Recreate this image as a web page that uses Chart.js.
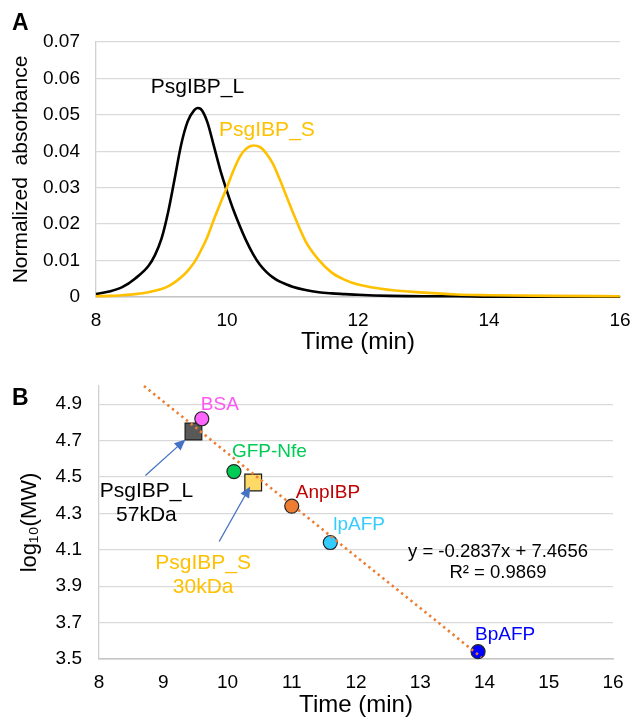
<!DOCTYPE html>
<html><head><meta charset="utf-8">
<script src="https://cdn.jsdelivr.net/npm/chart.js@4.4.1/dist/chart.umd.min.js"></script>
<style>
html,body{margin:0;padding:0;background:#fff;}
#wrap{position:relative;width:630px;height:720px;}
canvas{position:absolute;left:0;}
#cA{top:0;} #cB{top:360px;}
</style></head><body>
<div id="wrap"><canvas id="cA" width="630" height="360"></canvas><canvas id="cB" width="630" height="360"></canvas></div>
<script>
const FONT = "'Liberation Sans', Arial, sans-serif";

// ---------- Panel A data ----------
const timeA = [8.0, 8.2, 8.4, 8.6, 8.8, 8.9, 9.0, 9.1, 9.2, 9.3, 9.4, 9.5, 9.55, 9.6, 9.7, 9.8, 9.9, 10.0, 10.1, 10.2, 10.3, 10.4, 10.5, 10.6, 10.7, 10.8, 10.9, 11.0, 11.2, 11.4, 11.6, 11.8, 12.0, 12.5, 13.0, 13.5, 14.0, 15.0, 16.0];
const psgIBP_L = [0.0008, 0.0015, 0.0027, 0.0051, 0.0085, 0.0115, 0.0160, 0.0232, 0.0324, 0.0418, 0.0482, 0.0513, 0.0519, 0.0516, 0.0480, 0.0414, 0.0347, 0.0290, 0.0238, 0.0193, 0.0152, 0.0117, 0.0089, 0.0069, 0.0054, 0.0043, 0.0035, 0.0028, 0.0019, 0.0013, 0.0010, 0.0008, 0.0006, 0.0003, 0.0002, 0.0002, 0.0001, 0.0001, 0.0001];
const psgIBP_S = [0.0002, 0.0003, 0.0005, 0.0008, 0.0013, 0.0017, 0.0022, 0.0029, 0.0040, 0.0054, 0.0072, 0.0095, 0.0110, 0.0127, 0.0165, 0.0213, 0.0258, 0.0302, 0.0348, 0.0386, 0.0408, 0.0416, 0.0412, 0.0394, 0.0366, 0.0325, 0.0280, 0.0235, 0.0153, 0.0102, 0.0067, 0.0047, 0.0034, 0.0019, 0.0012, 0.0007, 0.0005, 0.0003, 0.0002];
const xTicksA = [8, 10, 12, 14, 16];
const yTicksA = [0, 0.01, 0.02, 0.03, 0.04, 0.05, 0.06, 0.07];

// ---------- Panel B data ----------
const stdNames = ['BSA', 'GFP-Nfe', 'AnpIBP', 'lpAFP', 'BpAFP'];
const stdTime = [9.6, 10.1, 11.0, 11.6, 13.9];
const stdLogMW = [4.82, 4.53, 4.34, 4.14, 3.54];
const sampleNames = ['PsgIBP_L', 'PsgIBP_S'];
const sampleMW = ['57kDa', '30kDa'];
const sampleTime = [9.47, 10.40];
const sampleLogMW = [4.75, 4.47];
const fitTime = [8.7, 13.95];
const fitLogMW = [5.0, 3.51];
const fitText = ['y = -0.2837x + 7.4656', 'R\u00B2 = 0.9869'];
const xTicksB = [8, 9, 10, 11, 12, 13, 14, 15, 16];
const yTicksB = [3.5, 3.7, 3.9, 4.1, 4.3, 4.5, 4.7, 4.9];

// styles
const stdFill = ['#FF66FF', '#00CC55', '#ED7D31', '#33CCFF', '#0000FF'];
const stdLabelColor = ['#FF55F5', '#00CC55', '#C00000', '#33CCFF', '#0000FF'];
const sampleFill = ['#595959', '#FFD966'];
const sampleLabelColor = ['#000000', '#FFC000'];

function tickSetter(arr){ return s => { s.ticks = arr.map(v => ({value: v})); }; }

// ---------- Chart A ----------
const panelAPlugin = {
  id: 'panelA',
  afterDraw(chart) {
    const ctx = chart.ctx, xs = chart.scales.x, ys = chart.scales.y;
    ctx.save();
    ctx.font = 'bold 23px ' + FONT;
    ctx.fillStyle = '#000';
    ctx.textAlign = 'left'; ctx.textBaseline = 'alphabetic';
    ctx.fillText('A', 12, 30);
    ctx.font = '21px ' + FONT;
    ctx.textAlign = 'center'; ctx.textBaseline = 'middle';
    ctx.fillStyle = '#000';
    ctx.fillText('PsgIBP_L', xs.getPixelForValue(9.55), ys.getPixelForValue(0.0575));
    ctx.fillStyle = '#FFC000';
    ctx.fillText('PsgIBP_S', xs.getPixelForValue(10.61), ys.getPixelForValue(0.0459));
    ctx.restore();
  }
};

new Chart(document.getElementById('cA'), {
  type: 'line',
  data: { datasets: [
    { label: 'PsgIBP_S', data: timeA.map((t, i) => ({x: t, y: psgIBP_S[i]})), borderColor: '#FFC000', borderWidth: 2.6, pointRadius: 0, cubicInterpolationMode: 'monotone', fill: false, clip: 6 },
    { label: 'PsgIBP_L', data: timeA.map((t, i) => ({x: t, y: psgIBP_L[i]})), borderColor: '#000000', borderWidth: 2.6, pointRadius: 0, cubicInterpolationMode: 'monotone', fill: false, clip: 6 }
  ]},
  options: {
    responsive: false, animation: false, devicePixelRatio: 1,
    layout: { padding: { left: 0, right: 10, top: 42, bottom: 0 } },
    plugins: { legend: { display: false }, tooltip: { enabled: false } },
    scales: {
      x: {
        type: 'linear', min: 8, max: 16,
        afterBuildTicks: tickSetter(xTicksA),
        ticks: { font: { family: FONT, size: 19 }, color: '#000', padding: 12, maxRotation: 0 },
        grid: { display: false, drawTicks: false },
        border: { display: true, color: '#c4c4c4', width: 1.5 },
        title: { display: true, text: 'Time (min)', font: { family: FONT, size: 24 }, color: '#000', padding: { top: 0, bottom: 3 } },
        afterFit: s => { s.height = 63; s.paddingLeft = 0; s.paddingRight = 0; }
      },
      y: {
        type: 'linear', min: 0, max: 0.07,
        afterBuildTicks: tickSetter(yTicksA),
        ticks: { font: { family: FONT, size: 19 }, color: '#000', padding: 16, callback: v => v === 0 ? '0' : v.toFixed(2) },
        grid: { color: '#d9d9d9', lineWidth: 1.3, drawTicks: false },
        border: { display: true, color: '#d0d0d0', width: 1.3 },
        title: { display: true, text: 'Normalized  absorbance', font: { family: FONT, size: 21 }, color: '#000', padding: { top: 9, bottom: 0 } },
        afterFit: s => { s.width = 96; s.paddingTop = 0; s.paddingBottom = 0; }
      }
    }
  },
  plugins: [panelAPlugin]
});

// ---------- Chart B ----------
function drawArrow(ctx, x1, y1, x2, y2, color) {
  const ang = Math.atan2(y2 - y1, x2 - x1);
  const hl = 11, hw = 5;
  const bx = x2 - hl * Math.cos(ang), by = y2 - hl * Math.sin(ang);
  ctx.strokeStyle = color; ctx.fillStyle = color; ctx.lineWidth = 1.3;
  ctx.beginPath(); ctx.moveTo(x1, y1); ctx.lineTo(bx, by); ctx.stroke();
  ctx.beginPath();
  ctx.moveTo(x2, y2);
  ctx.lineTo(bx + hw * Math.sin(ang), by - hw * Math.cos(ang));
  ctx.lineTo(bx - hw * Math.sin(ang), by + hw * Math.cos(ang));
  ctx.closePath(); ctx.fill();
}

const panelBPlugin = {
  id: 'panelB',
  afterDraw(chart) {
    const ctx = chart.ctx, xs = chart.scales.x, ys = chart.scales.y;
    ctx.save();
    ctx.font = 'bold 23px ' + FONT;
    ctx.fillStyle = '#000';
    ctx.textAlign = 'left'; ctx.textBaseline = 'alphabetic';
    ctx.fillText('B', 12, 45);

    // standard labels
    const offs = [[-1, -14], [-2, -20], [4, -13], [3, -18], [-3, -17]];
    ctx.font = '19px ' + FONT;
    ctx.textAlign = 'left'; ctx.textBaseline = 'middle';
    stdNames.forEach((n, i) => {
      const px = xs.getPixelForValue(stdTime[i]), py = ys.getPixelForValue(stdLogMW[i]);
      ctx.fillStyle = stdLabelColor[i];
      ctx.fillText(n, px + offs[i][0], py + offs[i][1]);
    });

    // sample labels + arrows
    const tOff = [[-47, 60], [-50, 81]];
    const aOff = [[-48, 44, -8, 8], [-34, 59, -3, 4]];
    sampleNames.forEach((n, i) => {
      const px = xs.getPixelForValue(sampleTime[i]), py = ys.getPixelForValue(sampleLogMW[i]);
      drawArrow(ctx, px + aOff[i][0], py + aOff[i][1], px + aOff[i][2], py + aOff[i][3], '#4472C4');
      ctx.font = '21px ' + FONT;
      ctx.textAlign = 'center'; ctx.textBaseline = 'middle';
      ctx.fillStyle = sampleLabelColor[i];
      ctx.fillText(n, px + tOff[i][0], py + tOff[i][1]);
      ctx.fillText(sampleMW[i], px + tOff[i][0], py + tOff[i][1] + 24);
    });

    // fit equation
    ctx.font = '18.5px ' + FONT;
    ctx.fillStyle = '#000';
    ctx.textAlign = 'center'; ctx.textBaseline = 'middle';
    ctx.fillText(fitText[0], xs.getPixelForValue(14.21), ys.getPixelForValue(4.088));
    ctx.fillText(fitText[1], xs.getPixelForValue(14.21), ys.getPixelForValue(3.973));
    ctx.restore();
  }
};

new Chart(document.getElementById('cB'), {
  type: 'scatter',
  data: { datasets: [
    { type: 'line', label: 'fit', data: fitTime.map((t, i) => ({x: t, y: fitLogMW[i]})), borderColor: '#ED7D31', borderWidth: 2.6, borderDash: [2.4, 3.6], pointRadius: 0, fill: false, clip: false },
    { label: 'standards', data: stdTime.map((t, i) => ({x: t, y: stdLogMW[i]})), pointStyle: 'circle', pointRadius: 7, pointBackgroundColor: stdFill, pointBorderColor: '#262626', pointBorderWidth: 1.2, clip: false },
    { label: 'samples', data: sampleTime.map((t, i) => ({x: t, y: sampleLogMW[i]})), pointStyle: 'rect', pointRadius: 11.8, pointBackgroundColor: sampleFill, pointBorderColor: '#1a1a1a', pointBorderWidth: 1.2, clip: false }
  ]},
  options: {
    responsive: false, animation: false, devicePixelRatio: 1,
    layout: { padding: { left: 0, right: 17, top: 26, bottom: 0 } },
    plugins: { legend: { display: false }, tooltip: { enabled: false } },
    scales: {
      x: {
        type: 'linear', min: 8, max: 16,
        afterBuildTicks: tickSetter(xTicksB),
        ticks: { font: { family: FONT, size: 19 }, color: '#000', padding: 12, maxRotation: 0 },
        grid: { display: false, drawTicks: false },
        border: { display: true, color: '#c4c4c4', width: 1.5 },
        title: { display: true, text: 'Time (min)', font: { family: FONT, size: 24 }, color: '#000', padding: { top: 0, bottom: 0 } },
        afterFit: s => { s.height = 61; s.paddingLeft = 0; s.paddingRight = 0; }
      },
      y: {
        type: 'linear', min: 3.5, max: 5.0,
        afterBuildTicks: tickSetter(yTicksB),
        ticks: { font: { family: FONT, size: 19 }, color: '#000', padding: 17, callback: v => v.toFixed(1) },
        grid: { color: '#d9d9d9', lineWidth: 1.3, drawTicks: false },
        border: { display: true, color: '#d0d0d0', width: 1.3 },
        title: { display: true, text: 'log\u2081\u2080(MW)', font: { family: FONT, size: 22 }, color: '#000', padding: { top: 17, bottom: 0 } },
        afterFit: s => { s.width = 99; s.paddingTop = 0; s.paddingBottom = 0; }
      }
    }
  },
  plugins: [panelBPlugin]
});
</script>
</body></html>
